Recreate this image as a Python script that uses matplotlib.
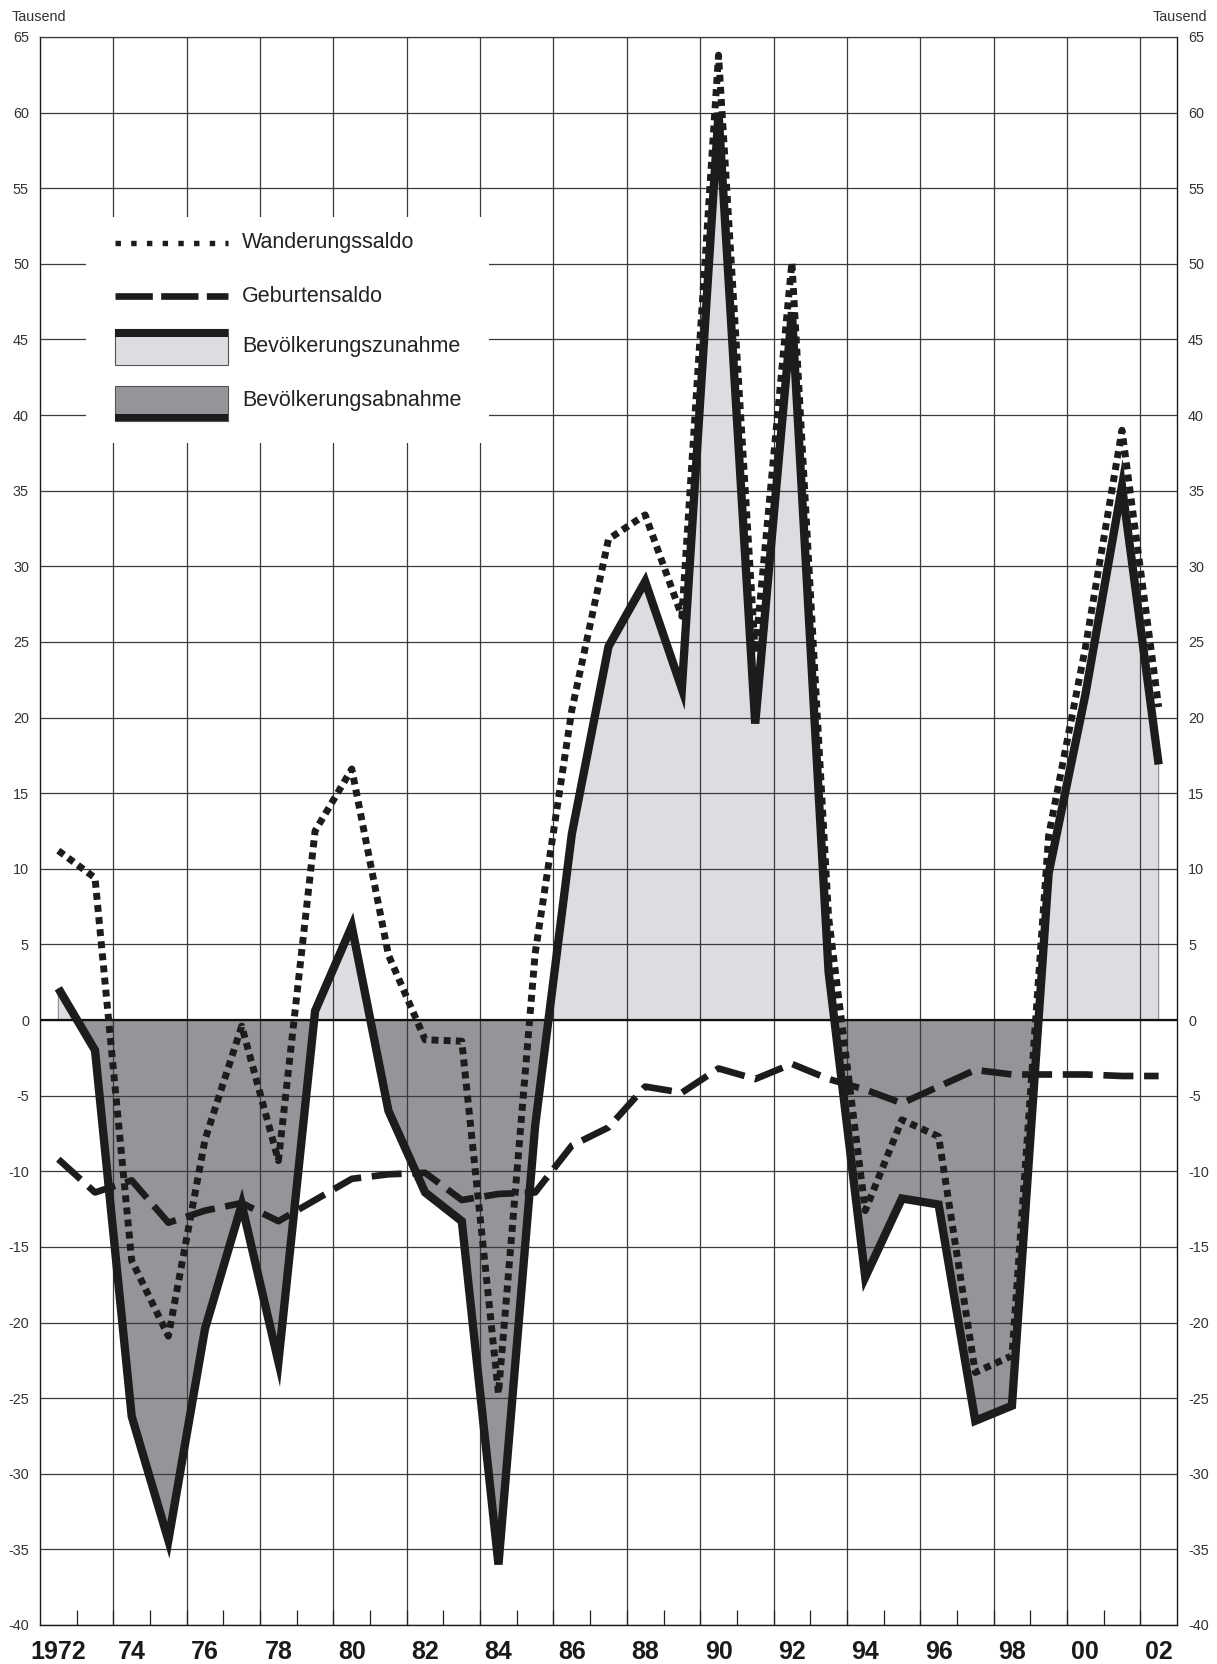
import numpy as np
import matplotlib
matplotlib.use("Agg")
import matplotlib.pyplot as plt
from matplotlib.patches import Rectangle
from matplotlib.lines import Line2D

plt.rcParams['font.family'] = ['Liberation Sans', 'DejaVu Sans']
plt.rcParams['axes.unicode_minus'] = False

# ---------------- data (Tausend) ----------------
years = list(range(1972, 2003))
wanderungssaldo = [11.2, 9.4, -15.9, -20.9, -7.9, -0.4, -9.3, 12.5, 16.6, 4.3,
                   -1.3, -1.4, -24.7, 4.4, 20.5, 31.8, 33.4, 26.7, 63.8, 24.3,
                   50.1, 6.8, -12.6, -6.6, -7.7, -23.3, -22.2, 12.2, 24.6, 39.0,
                   20.7]
geburtensaldo = [-9.2, -11.4, -10.6, -13.4, -12.6, -12.1, -13.3, -11.9, -10.5, -10.2,
                 -10.1, -11.9, -11.5, -11.4, -8.3, -7.1, -4.4, -4.8, -3.2, -3.9,
                 -2.9, -3.9, -4.6, -5.5, -4.4, -3.3, -3.6, -3.6, -3.6, -3.7,
                 -3.7]
bevoelkerung = [2.1, -2.0, -26.2, -34.4, -20.4, -12.2, -22.6, 0.6, 6.2, -6.0,
                -11.4, -13.3, -36.0, -7.0, 12.3, 24.7, 29.0, 21.9, 60.0, 19.6,
                46.8, 3.2, -17.0, -11.8, -12.2, -26.5, -25.5, 9.7, 21.5, 35.3,
                16.9]
year_labels = ['1972', '74', '76', '78', '80', '82', '84', '86', '88', '90',
               '92', '94', '96', '98', '00', '02']
legend_labels = ['Wanderungssaldo', 'Geburtensaldo',
                 'Bevölkerungszunahme', 'Bevölkerungsabnahme']

# ---------------- style ----------------
LIGHT = '#dcdde0'
DARK = '#939598'
GRID = '#3a3a3a'
TXT = '#333333'
INK = '#1c1c1c'

W, H = 1217, 1664
fig = plt.figure(figsize=(W / 100, H / 100), dpi=100)
ax = fig.add_axes([40 / W, 39 / H, 1137 / W, 1588 / H])

x = np.array(years, dtype=float)
tot = np.array(bevoelkerung)

ax.set_xlim(1971.5, 2002.5)
ax.set_ylim(-40, 65)

# fills
ax.fill_between(x, tot, 0, where=tot >= 0, interpolate=True,
                facecolor=LIGHT, edgecolor='#8a8a8a', linewidth=0.8, zorder=0.2)
ax.fill_between(x, tot, 0, where=tot <= 0, interpolate=True,
                facecolor=DARK, edgecolor='#6a6a6a', linewidth=0.8, zorder=0.2)

# grid
ax.set_yticks(np.arange(-40, 66, 5))
ax.set_yticklabels([str(v) for v in range(-40, 66, 5)])
ax.grid(axis='y', color=GRID, linewidth=0.9)
ax.set_axisbelow(True)
bounds = np.arange(1973.5, 2002, 2)
ax.vlines(bounds, -40, 65, colors=GRID, linewidth=0.9, zorder=0.5)

# ticks
ax.set_xticks(np.arange(1972, 2003, 2))
ax.set_xticklabels(year_labels)
ax.set_xticks(np.arange(1972.5, 2002, 1), minor=True)
ax.tick_params(axis='x', which='major', length=0, pad=11)
ax.tick_params(axis='x', which='minor', direction='in', length=10.8,
               width=0.9, color='#222222')
for lab in ax.get_xticklabels():
    lab.set_fontweight('bold')
    lab.set_fontsize(18)
    lab.set_color('#1a1a1a')
ax.tick_params(axis='y', which='both', length=0, pad=8, labelsize=10.4,
               labelcolor=TXT, left=False, right=False,
               labelleft=True, labelright=True)

for s in ['left', 'right', 'bottom']:
    ax.spines[s].set_linewidth(1.0)
    ax.spines[s].set_color('#1a1a1a')
ax.spines['top'].set_linewidth(0.9)
ax.spines['top'].set_color(GRID)

# legend white box (hides grid)
ax.add_patch(Rectangle((0.0405, 0.7443), 0.3544, 0.1423, transform=ax.transAxes,
                       facecolor='white', edgecolor='none', zorder=1))

# zero line
ax.axhline(0, color='#111111', linewidth=1.6, zorder=1.1)

# series
ax.plot(x, tot, color=INK, linewidth=6.0, solid_joinstyle='miter',
        solid_capstyle='butt', zorder=3)
ax.plot(x, geburtensaldo, color=INK, linewidth=4.8,
        linestyle=(0, (4.5, 1.6)), dash_capstyle='butt', zorder=4)
ax.plot(x, wanderungssaldo, color=INK, linewidth=5.0,
        linestyle=(0, (1.0, 0.75)), dash_capstyle='butt', zorder=5)

# legend entries
lx0, lx1, tx = 0.066, 0.1653, 0.1777
ax.add_line(Line2D([lx0, lx1], [0.8703, 0.8703], transform=ax.transAxes,
                   color=INK, linewidth=3.9, linestyle=(0, (1.0, 1.9)),
                   dash_capstyle='butt', zorder=6))
ax.add_line(Line2D([lx0, lx1], [0.8369, 0.8369], transform=ax.transAxes,
                   color=INK, linewidth=4.8, linestyle=(0, (5.6, 1.25)),
                   dash_capstyle='butt', zorder=6))
ax.add_patch(Rectangle((lx0, 0.7935), lx1 - lx0, 0.8161 - 0.7935,
                       transform=ax.transAxes, facecolor=LIGHT,
                       edgecolor='#555555', linewidth=0.8, zorder=6))
ax.add_patch(Rectangle((lx0, 0.8111), lx1 - lx0, 0.8161 - 0.8111,
                       transform=ax.transAxes, facecolor=INK,
                       edgecolor='none', zorder=7))
ax.add_patch(Rectangle((lx0, 0.7582), lx1 - lx0, 0.7802 - 0.7582,
                       transform=ax.transAxes, facecolor=DARK,
                       edgecolor='#555555', linewidth=0.8, zorder=6))
ax.add_patch(Rectangle((lx0, 0.7582), lx1 - lx0, 0.7626 - 0.7582,
                       transform=ax.transAxes, facecolor=INK,
                       edgecolor='none', zorder=7))
for yy, lab in zip([0.8703, 0.8369, 0.8048, 0.7714], legend_labels):
    ax.text(tx, yy, lab, transform=ax.transAxes, ha='left', va='center',
            fontsize=15.5, color='#222222', zorder=7)

# unit labels
fig.text(12 / W, 1 - 17 / H, 'Tausend', ha='left', va='center',
         fontsize=10.4, color=TXT)
fig.text(1207 / W, 1 - 17 / H, 'Tausend', ha='right', va='center',
         fontsize=10.4, color=TXT)

fig.savefig('out.png', dpi=100)
